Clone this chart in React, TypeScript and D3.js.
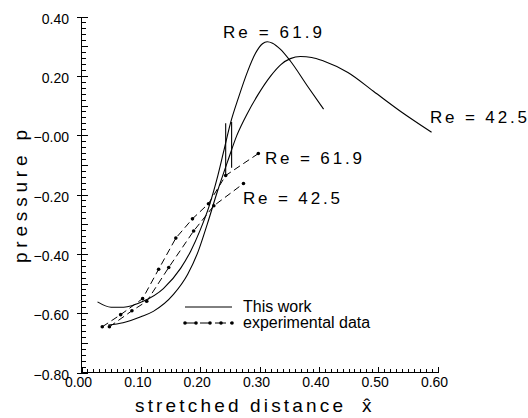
import React from "react";
import { scaleLinear, line, curveMonotoneX, range } from "d3";

// solid curves (this work)
const re619X = [0.027, 0.050, 0.071, 0.103, 0.138, 0.167, 0.184, 0.200, 0.215, 0.228, 0.239, 0.251, 0.265, 0.280, 0.293, 0.305, 0.313, 0.322, 0.335, 0.352, 0.381, 0.408];
const re619P = [-0.562, -0.580, -0.580, -0.561, -0.517, -0.449, -0.391, -0.320, -0.240, -0.150, -0.060, 0.040, 0.129, 0.215, 0.275, 0.308, 0.315, 0.310, 0.290, 0.250, 0.165, 0.088];
const re425X = [0.045, 0.070, 0.100, 0.121, 0.155, 0.179, 0.197, 0.212, 0.229, 0.246, 0.262, 0.280, 0.297, 0.319, 0.336, 0.352, 0.369, 0.388, 0.408, 0.449, 0.492, 0.538, 0.590];
const re425P = [-0.640, -0.632, -0.612, -0.594, -0.537, -0.469, -0.390, -0.300, -0.190, -0.090, 0.000, 0.075, 0.135, 0.200, 0.238, 0.258, 0.265, 0.262, 0.250, 0.211, 0.148, 0.080, 0.010];

// vertical spikes on the solid curves
const spikeX = [0.243, 0.253];
const spikeLo = [-0.136, -0.110];
const spikeHi = [0.040, 0.044];

// experimental data (dashed)
const exp619X = [0.035, 0.066, 0.103, 0.130, 0.159, 0.187, 0.214, 0.243, 0.298];
const exp619P = [-0.646, -0.605, -0.551, -0.452, -0.347, -0.282, -0.231, -0.136, -0.062];
const exp425X = [0.047, 0.085, 0.110, 0.147, 0.189, 0.223, 0.273];
const exp425P = [-0.646, -0.592, -0.560, -0.446, -0.323, -0.238, -0.163];

const xTickLabels = ["0.00", "0.10", "0.20", "0.30", "0.40", "0.50", "0.60"];
const xTickValues = [0, 0.1, 0.2, 0.3, 0.4, 0.5, 0.6];
const yTickLabels = ["0.40", "0.20", "\u22120.00", "\u22120.20", "\u22120.40", "\u22120.60", "\u22120.80"];
const yTickValues = [0.4, 0.2, 0, -0.2, -0.4, -0.6, -0.8];

const FONT = "'Liberation Sans', Arial, sans-serif";

export default function App() {
  const x = scaleLinear().domain([0, 0.6]).range([81.5, 437.5]);
  const y = scaleLinear().domain([-0.8, 0.4]).range([372.5, 16.5]);

  const toPts = (xs: number[], ps: number[]) => xs.map((v, i) => [v, ps[i]] as [number, number]);
  const smooth = line<[number, number]>()
    .x(d => x(d[0]))
    .y(d => y(d[1]))
    .curve(curveMonotoneX);
  const straight = line<[number, number]>()
    .x(d => x(d[0]))
    .y(d => y(d[1]));

  const exp = [toPts(exp619X, exp619P), toPts(exp425X, exp425P)];

  const xMinor = range(0, 61).map(i => i / 100);
  const yMinor = range(0, 61).map(i => -0.8 + i * 0.02);

  return (
    <svg width={528} height={418} style={{ position: "absolute", left: 0, top: 0, background: "#fff" }}>
      {/* axes */}
      <g stroke="#000" strokeWidth={1} fill="none" shapeRendering="crispEdges">
        <line x1={x(0)} x2={x(0)} y1={y(0.4)} y2={y(-0.8)} />
        <line x1={x(0)} x2={x(0.6)} y1={y(-0.8)} y2={y(-0.8)} />
        {xMinor.map((v, i) => (
          <line key={"xm" + i} x1={Math.round(x(v)) + 0.5} x2={Math.round(x(v)) + 0.5} y1={y(-0.8)} y2={y(-0.8) - (i % 10 === 0 ? 6 : 4)} />
        ))}
        {yMinor.map((v, i) => (
          <line key={"ym" + i} x1={x(0)} x2={x(0) + (i % 5 === 0 ? 6 : 4)} y1={Math.round(y(v)) + 0.5} y2={Math.round(y(v)) + 0.5} />
        ))}
        {yTickValues.map((v, i) => (
          <line key={"yM" + i} x1={x(0) - 5} x2={x(0)} y1={Math.round(y(v)) + 0.5} y2={Math.round(y(v)) + 0.5} />
        ))}
      </g>
      <g fontFamily={FONT} fontSize={14} fill="#000">
        {xTickValues.map((v, i) => (
          <text key={"xl" + i} x={x(v) - 3} y={387} textAnchor="middle">{xTickLabels[i]}</text>
        ))}
        {yTickValues.map((v, i) => (
          <text key={"yl" + i} x={69} y={y(v) + 7} textAnchor="end">{yTickLabels[i]}</text>
        ))}
      </g>
      <text x={135} y={412} fontFamily={FONT} fontSize={19} textLength={208} lengthAdjust="spacing">stretched distance</text>
      <text x={362} y={412} fontFamily={FONT} fontSize={19}>{"x\u0302"}</text>
      <text transform="translate(27,263) rotate(-90)" fontFamily={FONT} fontSize={19} textLength={133} lengthAdjust="spacing">pressure p</text>

      {/* solid curves */}
      <g stroke="#000" strokeWidth={1.1} fill="none">
        <path d={smooth(toPts(re619X, re619P)) || ""} />
        <path d={smooth(toPts(re425X, re425P)) || ""} />
        {spikeX.map((v, i) => (
          <line key={"sp" + i} x1={x(v)} x2={x(v)} y1={y(spikeLo[i])} y2={y(spikeHi[i])} />
        ))}
      </g>

      {/* experimental data */}
      <g stroke="#000" strokeWidth={1} fill="none" strokeDasharray="7,4">
        {exp.map((pts, i) => <path key={"e" + i} d={straight(pts) || ""} />)}
      </g>
      <g fill="#000">
        {exp.map((pts, i) => pts.map((d, j) => <circle key={"c" + i + "-" + j} cx={x(d[0])} cy={y(d[1])} r={1.8} />))}
      </g>

      {/* curve labels */}
      <g fontFamily={FONT} fontSize={17} fill="#000" style={{ whiteSpace: "pre" }}>
        <text x={223} y={38} textLength={99} lengthAdjust="spacing">{"Re  =  61.9"}</text>
        <text x={430} y={123} textLength={97} lengthAdjust="spacing">{"Re  =  42.5"}</text>
        <text x={265} y={164} textLength={97} lengthAdjust="spacing">{"Re  =  61.9"}</text>
        <text x={243} y={204} textLength={97} lengthAdjust="spacing">{"Re  =  42.5"}</text>
      </g>

      {/* legend */}
      <g stroke="#000" strokeWidth={1} fill="none">
        <line x1={185} x2={232} y1={307} y2={307} />
        <line x1={185} x2={232} y1={323} y2={323} strokeDasharray="11,4" />
      </g>
      <g fill="#000">
        {[185, 196, 210, 221, 232].map((cx, i) => <circle key={"lg" + i} cx={cx} cy={323} r={1.8} />)}
      </g>
      <g fontFamily={FONT} fontSize={16} fill="#000">
        <text x={243} y={312}>This work</text>
        <text x={243} y={328}>experimental data</text>
      </g>
    </svg>
  );
}
